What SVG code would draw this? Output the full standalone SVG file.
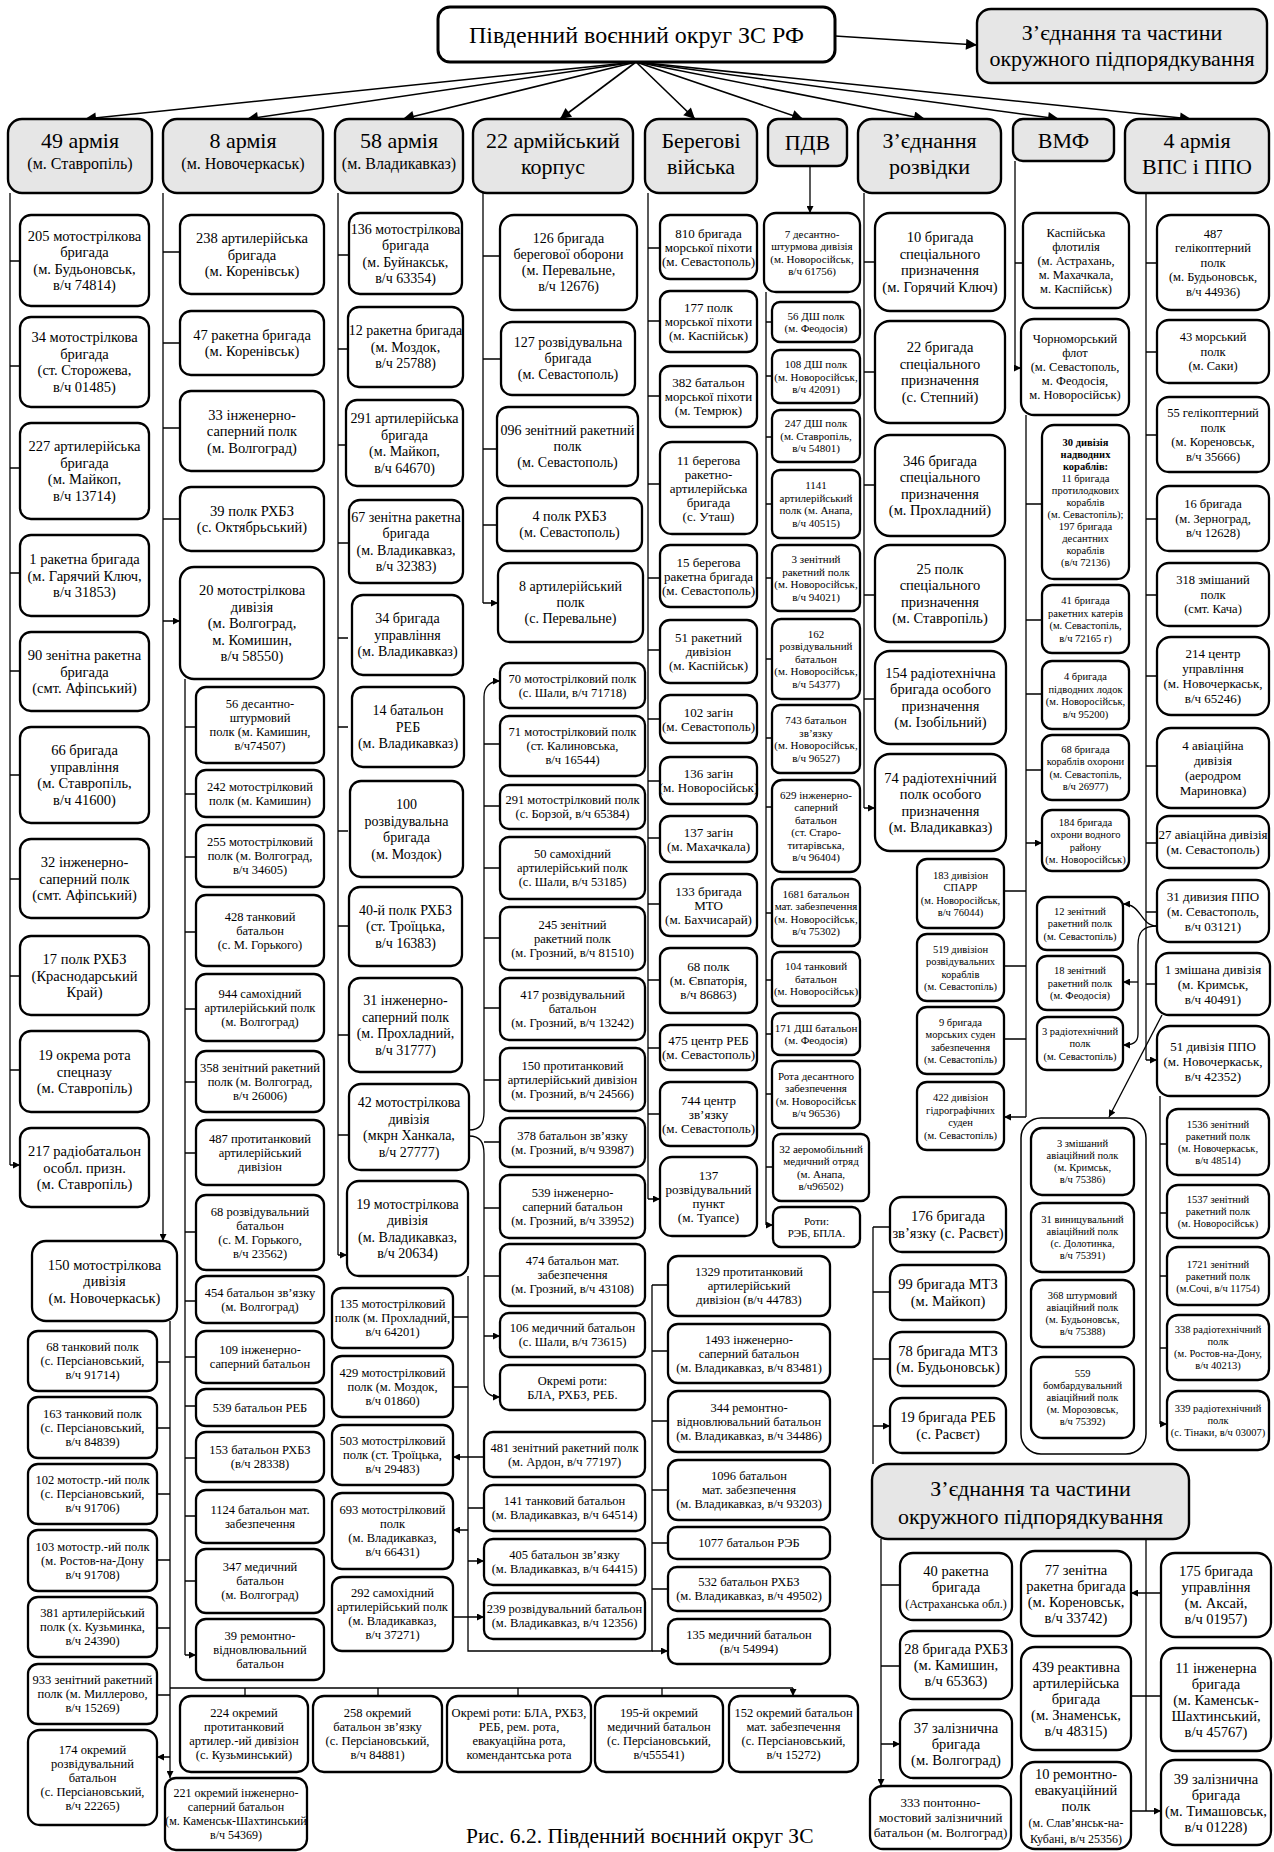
<svg xmlns="http://www.w3.org/2000/svg" width="1274" height="1852" viewBox="0 0 1274 1852">
<style>
.b{fill:#fff;stroke:#000;stroke-width:2.3}
.h{fill:#e6e6e6;stroke:#000;stroke-width:2.4}
text{font-family:"Liberation Serif","Times New Roman",serif;text-anchor:middle;fill:#000}
.f24{font-size:24px}.f22{font-size:22px}.f21{font-size:21px}.f16{font-size:16px}
.f145{font-size:14.5px}.f14{font-size:14px}.f13{font-size:13px}.f125{font-size:12.5px}.f12{font-size:12px}.f11{font-size:11px}.f105{font-size:10.5px}
.c{fill:none;stroke:#000;stroke-width:1.3}
.a{marker-end:url(#m)}
.d{marker-start:url(#m);marker-end:url(#m)}
.fa{fill:none;stroke:#000;stroke-width:1.6;marker-end:url(#M)}
</style>
<defs>
<marker id="m" viewBox="0 0 10 10" refX="10" refY="5" markerWidth="8" markerHeight="7" orient="auto-start-reverse" markerUnits="userSpaceOnUse"><path d="M0,0L10,5L0,10z"/></marker>
<marker id="M" viewBox="0 0 10 10" refX="10" refY="5" markerWidth="15" markerHeight="11" orient="auto" markerUnits="userSpaceOnUse"><path d="M0,0L10,5L0,10z"/></marker>
</defs>
<rect width="1274" height="1852" fill="#fff"/>

<g id="connectors">
<path class="fa" d="M835,36L977,45"/>
<path class="fa" d="M636,62L85,119"/>
<path class="fa" d="M636,62L247,119"/>
<path class="fa" d="M636,62L403,119"/>
<path class="fa" d="M636,62L560,119"/>
<path class="fa" d="M636,62L695,119"/>
<path class="fa" d="M636,62L803,119"/>
<path class="fa" d="M636,62L925,119"/>
<path class="fa" d="M636,62L1059,119"/>
<path class="fa" d="M636,62L1191,119"/>
<path class="c" d="M10,193V1165"/>
<path class="c a" d="M10,261H20M10,366H20M10,468H20M10,573H20M10,671H20M10,775H20M10,879H20M10,976H20M10,1070H20M10,1165H20"/>
<path class="c a" d="M163,193V1241"/>
<path class="c a" d="M163,252H180M163,343H180M163,428H180M163,519H180M163,621H180"/>
<path class="c" d="M185,679V1655"/>
<path class="c a" d="M185,727H196M185,794H196M185,857H196M185,932H196M185,1009H196M185,1082H196M185,1153H196M185,1232H196M185,1301H196M185,1357H196M185,1406H196M185,1458H196M185,1516H196M185,1581H196M185,1655H196"/>
<path class="c a" d="M170,1321V1778"/>
<path class="c a" d="M170,1362H157M170,1428H157M170,1494H157M170,1560H157M170,1628H157M170,1695H157M170,1757H157"/>
<path class="c" d="M170,1688H793"/>
<path class="c a" d="M245,1688V1696M378,1688V1696M518,1688V1696M662,1688V1696M793,1688V1696"/>
<path class="c" d="M338,193V1255"/>
<path class="c a" d="M338,255H348M338,349H348M338,445H348M338,543H348M338,638H348M338,727H348M338,831H348M338,926H348M338,1035H348M338,1135H348M338,1255H347"/>
<path class="c a" d="M469,1130C480,1130 484,1124 484,1112V697C484,687 490,681 500,681"/>
<path class="c a" d="M469,1136C480,1136 484,1142 484,1154V1382C484,1392 490,1397 500,1397"/>
<path class="c a" d="M484,744H500M484,806H500M484,868H500M484,938H500M484,1008H500M484,1080H500M484,1142H500M484,1208H500M484,1276H500M484,1336H500"/>
<path class="c" d="M468,1276V1651H652V1285"/>
<path class="c a" d="M468,1317H453M468,1387H453M468,1530H453"/>
<path class="c d" d="M453,1457H484M453,1617H484"/>
<path class="c a" d="M468,1508H484M468,1561H484"/>
<path class="c a" d="M652,1285H668M652,1351H668M652,1421H668M652,1490H668M652,1543H668M652,1589H668M652,1651H668"/>
<path class="c" d="M483,193V603"/>
<path class="c a" d="M483,256H500M483,359H501M483,449H497M483,525H497M483,603H498"/>
<path class="c" d="M648,193V1199"/>
<path class="c a" d="M648,248H660M648,321H660M648,396H660M648,484H660M648,578H660M648,650H660M648,719H660M648,781H660M648,838H660M648,904H660M648,980H660M648,1048H660M648,1114H660M648,1199H660"/>
<path class="c a" d="M810,166V213"/>
<path class="c" d="M766,292V1225"/>
<path class="c a" d="M766,322H772M766,376H772M766,437H772M766,504H772M766,578H772M766,659H772M766,738H772M766,807H772M766,913H772M766,980H772M766,1034H772M766,1094H772M766,1167H773M766,1225H773"/>
<path class="c" d="M864,193V808"/>
<path class="c a" d="M864,262H875M864,372H875M864,485H875M864,595H875M864,699H875M864,808H875"/>
<path class="c" d="M1015,161V368"/>
<path class="c a" d="M1015,263H1023M1015,368H1021"/>
<path class="c" d="M1026,415V1117"/>
<path class="c a" d="M1026,504H1042M1026,620H1042M1026,694H1042M1026,770H1042M1026,843H1042"/>
<path class="c a" d="M1026,891H1004M1026,966H1004M1026,1039H1004M1026,1117H1004"/>
<path class="c" d="M1146,193V1060"/>
<path class="c a" d="M1146,263H1157M1146,352H1157M1146,435H1157M1146,519H1157M1146,595H1157M1146,676H1157M1146,766H1157M1146,843H1157M1146,912H1157M1146,984H1156M1146,1060H1157"/>
<path class="c" d="M1160,1096V1424"/>
<path class="c a" d="M1160,1144H1167M1160,1213H1167M1160,1276H1167M1160,1348H1167M1160,1424H1167"/>
<path class="c a" d="M1157,926C1140,926 1142,904 1123,904"/>
<path class="c a" d="M1157,926C1143,926 1138,932 1138,945V1034C1138,1043 1132,1045 1123,1045"/>
<path class="c a" d="M1138,982H1123"/>
<path class="c a" d="M1162,1015L1109,1117"/>
<path class="c a" d="M1021,1159H1031M1021,1238H1031M1021,1314H1031M1021,1394H1031"/>
<path class="c" d="M873,1227V1464"/>
<path class="c a" d="M873,1227H890M873,1292H890M873,1359H890M873,1426H890"/>
<path class="c a" d="M881,1539V1786"/>
<path class="c a" d="M881,1585H900M881,1666H900M881,1744H900"/>
<path class="c" d="M1146,1539V1811"/>
<path class="c d" d="M1131,1593H1161M1131,1696H1161M1131,1811H1161"/>
</g>

<g id="top"><rect x="438" y="7" width="397" height="55" rx="12" class="b" style="stroke-width:3"/><text class="f24" x="636.5" y="43">Південний воєнний округ ЗС РФ</text></g>
<g id="top_sub"><rect x="977" y="9" width="290" height="74" rx="14" class="h"/><text class="f22" x="1122" y="40">З’єднання та частини<tspan x="1122" dy="26">окружного підпорядкування</tspan></text></g>

<g id="h49"><rect x="8" y="119" width="144" height="74" rx="14" class="h"/><text class="f22" x="80" y="148">49 армія</text><text class="f16" x="80" y="169">(м. Ставропіль)</text></g>
<g id="h8"><rect x="163" y="119" width="160" height="74" rx="14" class="h"/><text class="f22" x="243" y="148">8 армія</text><text class="f16" x="243" y="169">(м. Новочеркаськ)</text></g>
<g id="h58"><rect x="335" y="119" width="128" height="74" rx="14" class="h"/><text class="f22" x="399" y="148">58 армія</text><text class="f16" x="399" y="169">(м. Владикавказ)</text></g>
<g id="h22"><rect x="473" y="119" width="160" height="74" rx="14" class="h"/><text class="f22" x="553" y="148">22 армійський<tspan x="553" dy="26">корпус</tspan></text></g>
<g id="hcoast"><rect x="645" y="119" width="112" height="74" rx="14" class="h"/><text class="f22" x="701" y="148">Берегові<tspan x="701" dy="26">війська</tspan></text></g>
<g id="hpdv"><rect x="768" y="119" width="79" height="47" rx="10" class="h"/><text class="f22" x="807.5" y="150">ПДВ</text></g>
<g id="hrecon"><rect x="858" y="119" width="143" height="74" rx="14" class="h"/><text class="f22" x="929.5" y="148">З’єднання<tspan x="929.5" dy="26">розвідки</tspan></text></g>
<g id="hnavy"><rect x="1013" y="119" width="101" height="42" rx="10" class="h"/><text class="f22" x="1063.5" y="148">ВМФ</text></g>
<g id="h4"><rect x="1125" y="119" width="144" height="74" rx="14" class="h"/><text class="f22" x="1197" y="148">4 армія<tspan x="1197" dy="26">ВПС і ППО</tspan></text></g>

<g id="n205"><rect x="20" y="215" width="129" height="91" rx="11" class="b"/><text class="f145" x="84.5" y="240.8">205 мотострілкова<tspan x="84.5" dy="16.5">бригада</tspan><tspan x="84.5" dy="16.5">(м. Будьоновськ,</tspan><tspan x="84.5" dy="16.5">в/ч 74814)</tspan></text></g>
<g id="n34"><rect x="20" y="317" width="129" height="90" rx="11" class="b"/><text class="f145" x="84.5" y="342.3">34 мотострілкова<tspan x="84.5" dy="16.5">бригада</tspan><tspan x="84.5" dy="16.5">(ст. Сторожева,</tspan><tspan x="84.5" dy="16.5">в/ч 01485)</tspan></text></g>
<g id="n227"><rect x="20" y="423" width="129" height="96" rx="11" class="b"/><text class="f145" x="84.5" y="451.3">227 артилерійська<tspan x="84.5" dy="16.5">бригада</tspan><tspan x="84.5" dy="16.5">(м. Майкоп,</tspan><tspan x="84.5" dy="16.5">в/ч 13714)</tspan></text></g>
<g id="n1r"><rect x="20" y="535" width="129" height="81" rx="11" class="b"/><text class="f145" x="84.5" y="564.1">1 ракетна бригада<tspan x="84.5" dy="16.5">(м. Гарячий Ключ,</tspan><tspan x="84.5" dy="16.5">в/ч 31853)</tspan></text></g>
<g id="n90"><rect x="20" y="632" width="129" height="79" rx="11" class="b"/><text class="f145" x="84.5" y="660.1">90 зенітна ракетна<tspan x="84.5" dy="16.5">бригада</tspan><tspan x="84.5" dy="16.5">(смт. Афіпський)</tspan></text></g>
<g id="n66"><rect x="20" y="727" width="129" height="96" rx="11" class="b"/><text class="f145" x="84.5" y="755.3">66 бригада<tspan x="84.5" dy="16.5">управління</tspan><tspan x="84.5" dy="16.5">(м. Ставропіль,</tspan><tspan x="84.5" dy="16.5">в/ч 41600)</tspan></text></g>
<g id="n32"><rect x="20" y="839" width="129" height="79" rx="11" class="b"/><text class="f145" x="84.5" y="867.1">32 інженерно-<tspan x="84.5" dy="16.5">саперний полк</tspan><tspan x="84.5" dy="16.5">(смт. Афіпський)</tspan></text></g>
<g id="n17"><rect x="20" y="936" width="129" height="79" rx="11" class="b"/><text class="f145" x="84.5" y="964.1">17 полк РХБЗ<tspan x="84.5" dy="16.5">(Краснодарський</tspan><tspan x="84.5" dy="16.5">Край)</tspan></text></g>
<g id="n19r"><rect x="20" y="1031" width="129" height="81" rx="11" class="b"/><text class="f145" x="84.5" y="1060.1">19 окрема рота<tspan x="84.5" dy="16.5">спецназу</tspan><tspan x="84.5" dy="16.5">(м. Ставропіль)</tspan></text></g>
<g id="n217"><rect x="20" y="1128" width="129" height="79" rx="11" class="b"/><text class="f145" x="84.5" y="1156.1">217 радіобатальон<tspan x="84.5" dy="16.5">особл. призн.</tspan><tspan x="84.5" dy="16.5">(м. Ставропіль)</tspan></text></g>

<g id="n238"><rect x="180" y="215" width="144" height="79" rx="11" class="b"/><text class="f145" x="252" y="243.1">238 артилерійська<tspan x="252" dy="16.5">бригада</tspan><tspan x="252" dy="16.5">(м. Коренівськ)</tspan></text></g>
<g id="n47"><rect x="180" y="311" width="144" height="64" rx="11" class="b"/><text class="f145" x="252" y="339.8">47 ракетна бригада<tspan x="252" dy="16.5">(м. Коренівськ)</tspan></text></g>
<g id="n33"><rect x="180" y="391" width="144" height="80" rx="11" class="b"/><text class="f145" x="252" y="419.6">33 інженерно-<tspan x="252" dy="16.5">саперний полк</tspan><tspan x="252" dy="16.5">(м. Волгоград)</tspan></text></g>
<g id="n39rh"><rect x="180" y="487" width="144" height="64" rx="11" class="b"/><text class="f145" x="252" y="515.8">39 полк РХБЗ<tspan x="252" dy="16.5">(с. Октябрьський)</tspan></text></g>
<g id="n20"><rect x="180" y="567" width="144" height="112" rx="14" class="b"/><text class="f145" x="252" y="595.1">20 мотострілкова<tspan x="252" dy="16.5">дивізія</tspan><tspan x="252" dy="16.5">(м. Волгоград,</tspan><tspan x="252" dy="16.5">м. Комишин,</tspan><tspan x="252" dy="16.5">в/ч 58550)</tspan></text></g>
<g id="n56"><rect x="196" y="687" width="128" height="76" rx="10" class="b"/><text class="f125" x="260" y="708.4">56 десантно-<tspan x="260" dy="14">штурмовий</tspan><tspan x="260" dy="14">полк (м. Камишин,</tspan><tspan x="260" dy="14">в/ч74507)</tspan></text></g>
<g id="n242"><rect x="196" y="770" width="128" height="47" rx="10" class="b"/><text class="f125" x="260" y="790.9">242 мотострілковий<tspan x="260" dy="14">полк (м. Камишин)</tspan></text></g>
<g id="n255"><rect x="196" y="825" width="128" height="62" rx="10" class="b"/><text class="f125" x="260" y="846.4">255 мотострілковий<tspan x="260" dy="14">полк (м. Волгоград,</tspan><tspan x="260" dy="14">в/ч 34605)</tspan></text></g>
<g id="n428"><rect x="196" y="895" width="128" height="71" rx="10" class="b"/><text class="f125" x="260" y="920.9">428 танковий<tspan x="260" dy="14">батальон</tspan><tspan x="260" dy="14">(с. М. Горького)</tspan></text></g>
<g id="n944"><rect x="196" y="974" width="128" height="67" rx="10" class="b"/><text class="f125" x="260" y="997.9">944 самохідний<tspan x="260" dy="14">артилерійський полк</tspan><tspan x="260" dy="14">(м. Волгоград)</tspan></text></g>
<g id="n358"><rect x="196" y="1051" width="128" height="61" rx="10" class="b"/><text class="f125" x="260" y="1071.9">358 зенітний ракетний<tspan x="260" dy="14">полк (м. Волгоград,</tspan><tspan x="260" dy="14">в/ч 26006)</tspan></text></g>
<g id="n487p"><rect x="196" y="1120" width="128" height="65" rx="10" class="b"/><text class="f125" x="260" y="1142.9">487 протитанковий<tspan x="260" dy="14">артилерійський</tspan><tspan x="260" dy="14">дивізіон</tspan></text></g>
<g id="n68r"><rect x="196" y="1195" width="128" height="75" rx="10" class="b"/><text class="f125" x="260" y="1215.9">68 розвідувальний<tspan x="260" dy="14">батальон</tspan><tspan x="260" dy="14">(с. М. Горького,</tspan><tspan x="260" dy="14">в/ч 23562)</tspan></text></g>
<g id="n454"><rect x="196" y="1276" width="128" height="47" rx="10" class="b"/><text class="f125" x="260" y="1296.9">454 батальон зв’язку<tspan x="260" dy="14">(м. Волгоград)</tspan></text></g>
<g id="n109"><rect x="196" y="1331" width="128" height="52" rx="10" class="b"/><text class="f125" x="260" y="1354.4">109 інженерно-<tspan x="260" dy="14">саперний батальон</tspan></text></g>
<g id="n539r"><rect x="196" y="1389" width="128" height="37" rx="10" class="b"/><text class="f125" x="260" y="1411.9">539 батальон РЕБ</text></g>
<g id="n153"><rect x="196" y="1432" width="128" height="50" rx="10" class="b"/><text class="f125" x="260" y="1454.4">153 батальон РХБЗ<tspan x="260" dy="14">(в/ч 28338)</tspan></text></g>
<g id="n1124"><rect x="196" y="1490" width="128" height="53" rx="10" class="b"/><text class="f125" x="260" y="1513.9">1124 батальон мат.<tspan x="260" dy="14">забезпечення</tspan></text></g>
<g id="n347"><rect x="196" y="1549" width="128" height="64" rx="10" class="b"/><text class="f125" x="260" y="1571.4">347 медичний<tspan x="260" dy="14">батальон</tspan><tspan x="260" dy="14">(м. Волгоград)</tspan></text></g>
<g id="n39rem"><rect x="196" y="1619" width="128" height="61" rx="10" class="b"/><text class="f125" x="260" y="1639.9">39 ремонтно-<tspan x="260" dy="14">відновлювальний</tspan><tspan x="260" dy="14">батальон</tspan></text></g>

<g id="n150"><rect x="32" y="1241" width="145" height="80" rx="14" class="b"/><text class="f145" x="104.5" y="1269.6">150 мотострілкова<tspan x="104.5" dy="16.5">дивізія</tspan><tspan x="104.5" dy="16.5">(м. Новочеркаськ)</tspan></text></g>
<g id="n68t"><rect x="28" y="1331" width="129" height="60" rx="10" class="b"/><text class="f125" x="92.5" y="1351.4">68 танковий полк<tspan x="92.5" dy="14">(с. Персіановський,</tspan><tspan x="92.5" dy="14">в/ч 91714)</tspan></text></g>
<g id="n163"><rect x="28" y="1397" width="129" height="61" rx="10" class="b"/><text class="f125" x="92.5" y="1417.9">163 танковий полк<tspan x="92.5" dy="14">(с. Персіановський,</tspan><tspan x="92.5" dy="14">в/ч 84839)</tspan></text></g>
<g id="n102m"><rect x="28" y="1464" width="129" height="60" rx="10" class="b"/><text class="f125" x="92.5" y="1484.4">102 мотостр.-ий полк<tspan x="92.5" dy="14">(с. Персіановський,</tspan><tspan x="92.5" dy="14">в/ч 91706)</tspan></text></g>
<g id="n103"><rect x="28" y="1530" width="129" height="61" rx="10" class="b"/><text class="f125" x="92.5" y="1550.9">103 мотостр.-ий полк<tspan x="92.5" dy="14">(м. Ростов-на-Дону</tspan><tspan x="92.5" dy="14">в/ч 91708)</tspan></text></g>
<g id="n381"><rect x="28" y="1597" width="129" height="60" rx="10" class="b"/><text class="f125" x="92.5" y="1617.4">381 артилерійський<tspan x="92.5" dy="14">полк (х. Кузьминка,</tspan><tspan x="92.5" dy="14">в/ч 24390)</tspan></text></g>
<g id="n933"><rect x="28" y="1664" width="129" height="60" rx="10" class="b"/><text class="f125" x="92.5" y="1684.4">933 зенітний ракетний<tspan x="92.5" dy="14">полк (м. Миллерово,</tspan><tspan x="92.5" dy="14">в/ч 15269)</tspan></text></g>
<g id="n174"><rect x="28" y="1730" width="129" height="95" rx="12" class="b"/><text class="f125" x="92.5" y="1753.9">174 окремий<tspan x="92.5" dy="14">розвідувальний</tspan><tspan x="92.5" dy="14">батальон</tspan><tspan x="92.5" dy="14">(с. Персіановський,</tspan><tspan x="92.5" dy="14">в/ч 22265)</tspan></text></g>
<g id="n221"><rect x="165" y="1778" width="142" height="72" rx="11" class="b"/><text class="f12" x="236" y="1797.2">221 окремий інженерно-<tspan x="236" dy="14">саперний батальон</tspan><tspan x="236" dy="14">(м. Каменськ-Шахтинський</tspan><tspan x="236" dy="14">в/ч 54369)</tspan></text></g>
<g id="n224"><rect x="180" y="1696" width="128" height="76" rx="11" class="b"/><text class="f125" x="244" y="1717.4">224 окремий<tspan x="244" dy="14">протитанковий</tspan><tspan x="244" dy="14">артилер.-ий дивізіон</tspan><tspan x="244" dy="14">(с. Кузьминський)</tspan></text></g>
<g id="n258"><rect x="313" y="1696" width="129" height="76" rx="11" class="b"/><text class="f125" x="377.5" y="1717.4">258 окремий<tspan x="377.5" dy="14">батальон зв’язку</tspan><tspan x="377.5" dy="14">(с. Персіановський,</tspan><tspan x="377.5" dy="14">в/ч 84881)</tspan></text></g>
<g id="nrots"><rect x="447" y="1696" width="144" height="76" rx="11" class="b"/><text class="f125" x="519" y="1717.4">Окремі роти: БЛА, РХБЗ,<tspan x="519" dy="14">РЕБ, рем. рота,</tspan><tspan x="519" dy="14">евакуаційна рота,</tspan><tspan x="519" dy="14">комендантська рота</tspan></text></g>
<g id="n195"><rect x="595" y="1696" width="128" height="76" rx="11" class="b"/><text class="f125" x="659" y="1717.4">195-й окремий<tspan x="659" dy="14">медичний батальон</tspan><tspan x="659" dy="14">(с. Персіановський,</tspan><tspan x="659" dy="14">в/ч55541)</tspan></text></g>
<g id="n152"><rect x="729" y="1696" width="129" height="76" rx="11" class="b"/><text class="f125" x="793.5" y="1717.4">152 окремий батальон<tspan x="793.5" dy="14">мат. забезпечення</tspan><tspan x="793.5" dy="14">(с. Персіановський,</tspan><tspan x="793.5" dy="14">в/ч 15272)</tspan></text></g>

<g id="n136"><rect x="349" y="213" width="113" height="81" rx="11" class="b"/><text class="f14" x="405.5" y="233.7">136 мотострілкова<tspan x="405.5" dy="16.5">бригада</tspan><tspan x="405.5" dy="16.5">(м. Буйнакськ,</tspan><tspan x="405.5" dy="16.5">в/ч 63354)</tspan></text></g>
<g id="n12r"><rect x="348" y="307" width="115" height="80" rx="11" class="b"/><text class="f14" x="405.5" y="335.4">12 ракетна бригада<tspan x="405.5" dy="16.5">(м. Моздок,</tspan><tspan x="405.5" dy="16.5">в/ч 25788)</tspan></text></g>
<g id="n291a"><rect x="346" y="400" width="117" height="86" rx="11" class="b"/><text class="f14" x="404.5" y="423.2">291 артилерійська<tspan x="404.5" dy="16.5">бригада</tspan><tspan x="404.5" dy="16.5">(м. Майкоп,</tspan><tspan x="404.5" dy="16.5">в/ч 64670)</tspan></text></g>
<g id="n67"><rect x="349" y="500" width="114" height="83" rx="11" class="b"/><text class="f14" x="406" y="521.7">67 зенітна ракетна<tspan x="406" dy="16.5">бригада</tspan><tspan x="406" dy="16.5">(м. Владикавказ,</tspan><tspan x="406" dy="16.5">в/ч 32383)</tspan></text></g>
<g id="n34u"><rect x="352" y="595" width="111" height="80" rx="11" class="b"/><text class="f14" x="407.5" y="623.4">34 бригада<tspan x="407.5" dy="16.5">управління</tspan><tspan x="407.5" dy="16.5">(м. Владикавказ)</tspan></text></g>
<g id="n14"><rect x="352" y="687" width="112" height="80" rx="11" class="b"/><text class="f14" x="408" y="715.4">14 батальон<tspan x="408" dy="16.5">РЕБ</tspan><tspan x="408" dy="16.5">(м. Владикавказ)</tspan></text></g>
<g id="n100"><rect x="350" y="781" width="113" height="96" rx="11" class="b"/><text class="f14" x="406.5" y="809.2">100<tspan x="406.5" dy="16.5">розвідувальна</tspan><tspan x="406.5" dy="16.5">бригада</tspan><tspan x="406.5" dy="16.5">(м. Моздок)</tspan></text></g>
<g id="n40"><rect x="349" y="887" width="113" height="79" rx="11" class="b"/><text class="f14" x="405.5" y="914.9">40-й полк РХБЗ<tspan x="405.5" dy="16.5">(ст. Троїцька,</tspan><tspan x="405.5" dy="16.5">в/ч 16383)</tspan></text></g>
<g id="n31i"><rect x="349" y="978" width="113" height="94" rx="11" class="b"/><text class="f14" x="405.5" y="1005.2">31 інженерно-<tspan x="405.5" dy="16.5">саперний полк</tspan><tspan x="405.5" dy="16.5">(м. Прохладний,</tspan><tspan x="405.5" dy="16.5">в/ч 31777)</tspan></text></g>
<g id="n42"><rect x="349" y="1084" width="120" height="86" rx="12" class="b"/><text class="f14" x="409" y="1107.2">42 мотострілкова<tspan x="409" dy="16.5">дивізія</tspan><tspan x="409" dy="16.5">(мкрн Ханкала,</tspan><tspan x="409" dy="16.5">в/ч 27777)</tspan></text></g>
<g id="n19m"><rect x="347" y="1181" width="121" height="95" rx="12" class="b"/><text class="f14" x="407.5" y="1208.7">19 мотострілкова<tspan x="407.5" dy="16.5">дивізія</tspan><tspan x="407.5" dy="16.5">(м. Владикавказ,</tspan><tspan x="407.5" dy="16.5">в/ч 20634)</tspan></text></g>

<g id="n70"><rect x="500" y="663" width="145" height="45" rx="9" class="b"/><text class="f125" x="572.5" y="682.9">70 мотострілковий полк<tspan x="572.5" dy="14">(с. Шали, в/ч 71718)</tspan></text></g>
<g id="n71"><rect x="500" y="716" width="145" height="60" rx="9" class="b"/><text class="f125" x="572.5" y="736.4">71 мотострілковий полк<tspan x="572.5" dy="14">(ст. Калиновська,</tspan><tspan x="572.5" dy="14">в/ч 16544)</tspan></text></g>
<g id="n291m"><rect x="500" y="785" width="145" height="44" rx="9" class="b"/><text class="f125" x="572.5" y="804.4">291 мотострілковий полк<tspan x="572.5" dy="14">(с. Борзой, в/ч 65384)</tspan></text></g>
<g id="n50"><rect x="500" y="837" width="145" height="62" rx="9" class="b"/><text class="f125" x="572.5" y="858.4">50 самохідний<tspan x="572.5" dy="14">артилерійський полк</tspan><tspan x="572.5" dy="14">(с. Шали, в/ч 53185)</tspan></text></g>
<g id="n245"><rect x="500" y="907" width="145" height="63" rx="9" class="b"/><text class="f125" x="572.5" y="928.9">245 зенітний<tspan x="572.5" dy="14">ракетний полк</tspan><tspan x="572.5" dy="14">(м. Грозний, в/ч 81510)</tspan></text></g>
<g id="n417"><rect x="500" y="978" width="145" height="62" rx="9" class="b"/><text class="f125" x="572.5" y="999.4">417 розвідувальний<tspan x="572.5" dy="14">батальон</tspan><tspan x="572.5" dy="14">(м. Грозний, в/ч 13242)</tspan></text></g>
<g id="n150p"><rect x="500" y="1048" width="145" height="63" rx="9" class="b"/><text class="f125" x="572.5" y="1069.9">150 протитанковий<tspan x="572.5" dy="14">артилерійський дивізіон</tspan><tspan x="572.5" dy="14">(м. Грозний, в/ч 24566)</tspan></text></g>
<g id="n378"><rect x="500" y="1118" width="145" height="49" rx="9" class="b"/><text class="f125" x="572.5" y="1139.9">378 батальон зв’язку<tspan x="572.5" dy="14">(м. Грозний, в/ч 93987)</tspan></text></g>
<g id="n539i"><rect x="500" y="1175" width="145" height="63" rx="9" class="b"/><text class="f125" x="572.5" y="1196.9">539 інженерно-<tspan x="572.5" dy="14">саперний батальон</tspan><tspan x="572.5" dy="14">(м. Грозний, в/ч 33952)</tspan></text></g>
<g id="n474"><rect x="500" y="1244" width="145" height="62" rx="9" class="b"/><text class="f125" x="572.5" y="1265.4">474 батальон мат.<tspan x="572.5" dy="14">забезпечення</tspan><tspan x="572.5" dy="14">(м. Грозний, в/ч 43108)</tspan></text></g>
<g id="n106"><rect x="500" y="1313" width="145" height="44" rx="9" class="b"/><text class="f125" x="572.5" y="1332.4">106 медичний батальон<tspan x="572.5" dy="14">(с. Шали, в/ч 73615)</tspan></text></g>
<g id="nrot42"><rect x="500" y="1365" width="145" height="45" rx="9" class="b"/><text class="f125" x="572.5" y="1384.9">Окремі роти:<tspan x="572.5" dy="14">БЛА, РХБЗ, РЕБ.</tspan></text></g>

<g id="n135"><rect x="332" y="1288" width="121" height="60" rx="10" class="b"/><text class="f125" x="392.5" y="1308.4">135 мотострілковий<tspan x="392.5" dy="14">полк (м. Прохладний,</tspan><tspan x="392.5" dy="14">в/ч 64201)</tspan></text></g>
<g id="n429"><rect x="332" y="1356" width="121" height="61" rx="10" class="b"/><text class="f125" x="392.5" y="1376.9">429 мотострілковий<tspan x="392.5" dy="14">полк (м. Моздок,</tspan><tspan x="392.5" dy="14">в/ч 01860)</tspan></text></g>
<g id="n503"><rect x="332" y="1425" width="121" height="60" rx="10" class="b"/><text class="f125" x="392.5" y="1445.4">503 мотострілковий<tspan x="392.5" dy="14">полк (ст. Троїцька,</tspan><tspan x="392.5" dy="14">в/ч 29483)</tspan></text></g>
<g id="n693"><rect x="332" y="1493" width="121" height="76" rx="10" class="b"/><text class="f125" x="392.5" y="1514.4">693 мотострілковий<tspan x="392.5" dy="14">полк</tspan><tspan x="392.5" dy="14">(м. Владикавказ,</tspan><tspan x="392.5" dy="14">в/ч 66431)</tspan></text></g>
<g id="n292"><rect x="332" y="1577" width="121" height="74" rx="10" class="b"/><text class="f125" x="392.5" y="1597.4">292 самохідний<tspan x="392.5" dy="14">артилерійський полк</tspan><tspan x="392.5" dy="14">(м. Владикавказ,</tspan><tspan x="392.5" dy="14">в/ч 37271)</tspan></text></g>
<g id="n481"><rect x="484" y="1432" width="161" height="45" rx="9" class="b"/><text class="f125" x="564.5" y="1451.9">481 зенітний ракетний полк<tspan x="564.5" dy="14">(м. Ардон, в/ч 77197)</tspan></text></g>
<g id="n141"><rect x="484" y="1485" width="161" height="46" rx="9" class="b"/><text class="f125" x="564.5" y="1505.4">141 танковий батальон<tspan x="564.5" dy="14">(м. Владикавказ, в/ч 64514)</tspan></text></g>
<g id="n405"><rect x="484" y="1539" width="161" height="46" rx="9" class="b"/><text class="f125" x="564.5" y="1559.4">405 батальон зв’язку<tspan x="564.5" dy="14">(м. Владикавказ, в/ч 64415)</tspan></text></g>
<g id="n239"><rect x="484" y="1593" width="161" height="46" rx="9" class="b"/><text class="f125" x="564.5" y="1613.4">239 розвідувальний батальон<tspan x="564.5" dy="14">(м. Владикавказ, в/ч 12356)</tspan></text></g>
<g id="n1329"><rect x="668" y="1256" width="162" height="60" rx="10" class="b"/><text class="f125" x="749" y="1276.4">1329 протитанковий<tspan x="749" dy="14">артилерійський</tspan><tspan x="749" dy="14">дивізіон (в/ч 44783)</tspan></text></g>
<g id="n1493"><rect x="668" y="1324" width="162" height="59" rx="10" class="b"/><text class="f125" x="749" y="1343.9">1493 інженерно-<tspan x="749" dy="14">саперний батальон</tspan><tspan x="749" dy="14">(м. Владикавказ, в/ч 83481)</tspan></text></g>
<g id="n344"><rect x="668" y="1391" width="162" height="61" rx="10" class="b"/><text class="f125" x="749" y="1411.9">344 ремонтно-<tspan x="749" dy="14">відновлювальний батальон</tspan><tspan x="749" dy="14">(м. Владикавказ, в/ч 34486)</tspan></text></g>
<g id="n1096"><rect x="668" y="1460" width="162" height="60" rx="10" class="b"/><text class="f125" x="749" y="1480.4">1096 батальон<tspan x="749" dy="14">мат. забезпечення</tspan><tspan x="749" dy="14">(м. Владикавказ, в/ч 93203)</tspan></text></g>
<g id="n1077"><rect x="668" y="1527" width="162" height="32" rx="9" class="b"/><text class="f125" x="749" y="1547.4">1077 батальон РЭБ</text></g>
<g id="n532"><rect x="668" y="1567" width="162" height="44" rx="9" class="b"/><text class="f125" x="749" y="1586.4">532 батальон РХБЗ<tspan x="749" dy="14">(м. Владикавказ, в/ч 49502)</tspan></text></g>
<g id="n135m"><rect x="668" y="1619" width="162" height="45" rx="9" class="b"/><text class="f125" x="749" y="1638.9">135 медичний батальон<tspan x="749" dy="14">(в/ч 54994)</tspan></text></g>

<g id="n126"><rect x="500" y="215" width="137" height="95" rx="14" class="b"/><text class="f14" x="568.5" y="243.4">126 бригада<tspan x="568.5" dy="16">берегової оборони</tspan><tspan x="568.5" dy="16">(м. Перевальне,</tspan><tspan x="568.5" dy="16">в/ч 12676)</tspan></text></g>
<g id="n127"><rect x="501" y="322" width="134" height="73" rx="11" class="b"/><text class="f14" x="568" y="347.4">127 розвідувальна<tspan x="568" dy="16">бригада</tspan><tspan x="568" dy="16">(м. Севастополь)</tspan></text></g>
<g id="n096"><rect x="497" y="407" width="141" height="79" rx="11" class="b"/><text class="f14" x="567.5" y="435.4">096 зенітний ракетний<tspan x="567.5" dy="16">полк</tspan><tspan x="567.5" dy="16">(м. Севастополь)</tspan></text></g>
<g id="n4rh"><rect x="497" y="498" width="145" height="53" rx="10" class="b"/><text class="f14" x="569.5" y="521.4">4 полк РХБЗ<tspan x="569.5" dy="16">(м. Севастополь)</tspan></text></g>
<g id="n8a"><rect x="498" y="563" width="145" height="79" rx="12" class="b"/><text class="f14" x="570.5" y="591.4">8 артилерійський<tspan x="570.5" dy="16">полк</tspan><tspan x="570.5" dy="16">(с. Перевальне)</tspan></text></g>

<g id="n810"><rect x="660" y="215" width="97" height="64" rx="10" class="b"/><text class="f13" x="708.5" y="237.6">810 бригада<tspan x="708.5" dy="14">морської піхоти</tspan><tspan x="708.5" dy="14">(м. Севастополь)</tspan></text></g>
<g id="n177"><rect x="660" y="291" width="97" height="61" rx="10" class="b"/><text class="f13" x="708.5" y="312.1">177 полк<tspan x="708.5" dy="14">морської піхоти</tspan><tspan x="708.5" dy="14">(м. Каспійськ)</tspan></text></g>
<g id="n382"><rect x="660" y="366" width="97" height="61" rx="10" class="b"/><text class="f13" x="708.5" y="387.1">382 батальон<tspan x="708.5" dy="14">морської піхоти</tspan><tspan x="708.5" dy="14">(м. Темрюк)</tspan></text></g>
<g id="n11b"><rect x="660" y="442" width="97" height="92" rx="12" class="b"/><text class="f13" x="708.5" y="464.6">11 берегова<tspan x="708.5" dy="14">ракетно-</tspan><tspan x="708.5" dy="14">артилерійська</tspan><tspan x="708.5" dy="14">бригада</tspan><tspan x="708.5" dy="14">(с. Уташ)</tspan></text></g>
<g id="n15b"><rect x="660" y="545" width="97" height="62" rx="10" class="b"/><text class="f13" x="708.5" y="566.6">15 берегова<tspan x="708.5" dy="14">ракетна бригада</tspan><tspan x="708.5" dy="14">(м. Севастополь)</tspan></text></g>
<g id="n51r"><rect x="660" y="620" width="97" height="63" rx="10" class="b"/><text class="f13" x="708.5" y="642.1">51 ракетний<tspan x="708.5" dy="14">дивізіон</tspan><tspan x="708.5" dy="14">(м. Каспійськ)</tspan></text></g>
<g id="n102z"><rect x="660" y="695" width="97" height="48" rx="10" class="b"/><text class="f13" x="708.5" y="716.6">102 загін<tspan x="708.5" dy="14">(м. Севастополь)</tspan></text></g>
<g id="n136z"><rect x="660" y="757" width="97" height="47" rx="10" class="b"/><text class="f13" x="708.5" y="778.1">136 загін<tspan x="708.5" dy="14">(м. Новоросійськ)</tspan></text></g>
<g id="n137z"><rect x="660" y="816" width="97" height="46" rx="10" class="b"/><text class="f13" x="708.5" y="836.6">137 загін<tspan x="708.5" dy="14">(м. Махачкала)</tspan></text></g>
<g id="n133"><rect x="660" y="874" width="97" height="62" rx="10" class="b"/><text class="f13" x="708.5" y="895.6">133 бригада<tspan x="708.5" dy="14">МТО</tspan><tspan x="708.5" dy="14">(м. Бахчисарай)</tspan></text></g>
<g id="n68p"><rect x="660" y="948" width="97" height="65" rx="10" class="b"/><text class="f13" x="708.5" y="971.1">68 полк<tspan x="708.5" dy="14">(м. Євпаторія,</tspan><tspan x="708.5" dy="14">в/ч 86863)</tspan></text></g>
<g id="n475"><rect x="660" y="1025" width="97" height="45" rx="10" class="b"/><text class="f13" x="708.5" y="1045.1">475 центр РЕБ<tspan x="708.5" dy="14">(м. Севастополь)</tspan></text></g>
<g id="n744"><rect x="660" y="1082" width="97" height="64" rx="10" class="b"/><text class="f13" x="708.5" y="1104.6">744 центр<tspan x="708.5" dy="14">зв’язку</tspan><tspan x="708.5" dy="14">(м. Севастополь)</tspan></text></g>
<g id="n137p"><rect x="660" y="1157" width="97" height="79" rx="12" class="b"/><text class="f13" x="708.5" y="1180.1">137<tspan x="708.5" dy="14">розвідувальний</tspan><tspan x="708.5" dy="14">пункт</tspan><tspan x="708.5" dy="14">(м. Туапсе)</tspan></text></g>

<g id="n7"><rect x="764" y="213" width="96" height="79" rx="12" class="b"/><text class="f11" x="812" y="237.6">7 десантно-<tspan x="812" dy="12.5">штурмова дивізія</tspan><tspan x="812" dy="12.5">(м. Новоросійськ,</tspan><tspan x="812" dy="12.5">в/ч 61756)</tspan></text></g>
<g id="n56d"><rect x="772" y="302" width="88" height="40" rx="8" class="b"/><text class="f11" x="816" y="319.6">56 ДШ полк<tspan x="816" dy="12.5">(м. Феодосія)</tspan></text></g>
<g id="n108"><rect x="772" y="350" width="88" height="53" rx="8" class="b"/><text class="f11" x="816" y="368.1">108 ДШ полк<tspan x="816" dy="12.5">(м. Новоросійськ,</tspan><tspan x="816" dy="12.5">в/ч 42091)</tspan></text></g>
<g id="n247"><rect x="772" y="410" width="88" height="52" rx="8" class="b"/><text class="f11" x="816" y="427.4">247 ДШ полк<tspan x="816" dy="12.5">(м. Ставропіль,</tspan><tspan x="816" dy="12.5">в/ч 54801)</tspan></text></g>
<g id="n1141"><rect x="772" y="470" width="88" height="68" rx="8" class="b"/><text class="f11" x="816" y="489.1">1141<tspan x="816" dy="12.5">артилерійський</tspan><tspan x="816" dy="12.5">полк (м. Анапа,</tspan><tspan x="816" dy="12.5">в/ч 40515)</tspan></text></g>
<g id="n3z"><rect x="772" y="545" width="88" height="66" rx="8" class="b"/><text class="f11" x="816" y="563.1">3 зенітний<tspan x="816" dy="12.5">ракетний полк</tspan><tspan x="816" dy="12.5">(м. Новоросійськ,</tspan><tspan x="816" dy="12.5">в/ч 94021)</tspan></text></g>
<g id="n162"><rect x="772" y="619" width="88" height="80" rx="9" class="b"/><text class="f11" x="816" y="637.9">162<tspan x="816" dy="12.5">розвідувальний</tspan><tspan x="816" dy="12.5">батальон</tspan><tspan x="816" dy="12.5">(м. Новоросійськ,</tspan><tspan x="816" dy="12.5">в/ч 54377)</tspan></text></g>
<g id="n743"><rect x="772" y="705" width="88" height="68" rx="8" class="b"/><text class="f11" x="816" y="724.1">743 батальон<tspan x="816" dy="12.5">зв’язку</tspan><tspan x="816" dy="12.5">(м. Новоросійськ,</tspan><tspan x="816" dy="12.5">в/ч 96527)</tspan></text></g>
<g id="n629"><rect x="772" y="780" width="88" height="92" rx="10" class="b"/><text class="f11" x="816" y="798.6">629 інженерно-<tspan x="816" dy="12.5">саперний</tspan><tspan x="816" dy="12.5">батальон</tspan><tspan x="816" dy="12.5">(ст. Старо-</tspan><tspan x="816" dy="12.5">титарівська,</tspan><tspan x="816" dy="12.5">в/ч 96404)</tspan></text></g>
<g id="n1681"><rect x="772" y="879" width="88" height="67" rx="8" class="b"/><text class="f11" x="816" y="897.6">1681 батальон<tspan x="816" dy="12.5">мат. забезпечення</tspan><tspan x="816" dy="12.5">(м. Новоросійськ,</tspan><tspan x="816" dy="12.5">в/ч 75302)</tspan></text></g>
<g id="n104"><rect x="772" y="952" width="88" height="54" rx="8" class="b"/><text class="f11" x="816" y="970.4">104 танковий<tspan x="816" dy="12.5">батальон</tspan><tspan x="816" dy="12.5">(м. Новоросійськ)</tspan></text></g>
<g id="n171"><rect x="772" y="1013" width="88" height="42" rx="8" class="b"/><text class="f11" x="816" y="1031.6">171 ДШ батальон<tspan x="816" dy="12.5">(м. Феодосія)</tspan></text></g>
<g id="nrota"><rect x="772" y="1061" width="88" height="67" rx="8" class="b"/><text class="f11" x="816" y="1079.6">Рота десантного<tspan x="816" dy="12.5">забезпечення</tspan><tspan x="816" dy="12.5">(м. Новоросійськ</tspan><tspan x="816" dy="12.5">в/ч 96536)</tspan></text></g>
<g id="n32a"><rect x="773" y="1134" width="96" height="67" rx="8" class="b"/><text class="f11" x="821" y="1152.6">32 аеромобільний<tspan x="821" dy="12.5">медичний отряд</tspan><tspan x="821" dy="12.5">(м. Анапа,</tspan><tspan x="821" dy="12.5">в/ч96502)</tspan></text></g>
<g id="nrotpdv"><rect x="773" y="1207" width="87" height="40" rx="8" class="b"/><text class="f11" x="816.5" y="1224.6">Роти:<tspan x="816.5" dy="12.5">РЭБ, БПЛА.</tspan></text></g>

<g id="n10s"><rect x="875" y="213" width="130" height="98" rx="15" class="b"/><text class="f145" x="940" y="242.3">10 бригада<tspan x="940" dy="16.5">спеціального</tspan><tspan x="940" dy="16.5">призначення</tspan><tspan x="940" dy="16.5">(м. Горячий Ключ)</tspan></text></g>
<g id="n22s"><rect x="875" y="321" width="130" height="102" rx="15" class="b"/><text class="f145" x="940" y="352.3">22 бригада<tspan x="940" dy="16.5">спеціального</tspan><tspan x="940" dy="16.5">призначення</tspan><tspan x="940" dy="16.5">(с. Степний)</tspan></text></g>
<g id="n346"><rect x="875" y="435" width="130" height="101" rx="15" class="b"/><text class="f145" x="940" y="465.8">346 бригада<tspan x="940" dy="16.5">спеціального</tspan><tspan x="940" dy="16.5">призначення</tspan><tspan x="940" dy="16.5">(м. Прохладний)</tspan></text></g>
<g id="n25s"><rect x="875" y="545" width="130" height="97" rx="15" class="b"/><text class="f145" x="940" y="573.8">25 полк<tspan x="940" dy="16.5">спеціального</tspan><tspan x="940" dy="16.5">призначення</tspan><tspan x="940" dy="16.5">(м. Ставропіль)</tspan></text></g>
<g id="n154"><rect x="875" y="651" width="131" height="93" rx="15" class="b"/><text class="f145" x="940.5" y="677.8">154 радіотехнічна<tspan x="940.5" dy="16.5">бригада особого</tspan><tspan x="940.5" dy="16.5">призначення</tspan><tspan x="940.5" dy="16.5">(м. Ізобільний)</tspan></text></g>
<g id="n74"><rect x="875" y="754" width="131" height="97" rx="15" class="b"/><text class="f145" x="940.5" y="782.8">74 радіотехнічний<tspan x="940.5" dy="16.5">полк особого</tspan><tspan x="940.5" dy="16.5">призначення</tspan><tspan x="940.5" dy="16.5">(м. Владикавказ)</tspan></text></g>

<g id="ncasp"><rect x="1023" y="213" width="106" height="95" rx="13" class="b"/><text class="f125" x="1076" y="236.9">Каспійська<tspan x="1076" dy="14">флотилія</tspan><tspan x="1076" dy="14">(м. Астрахань,</tspan><tspan x="1076" dy="14">м. Махачкала,</tspan><tspan x="1076" dy="14">м. Каспійськ)</tspan></text></g>
<g id="nblack"><rect x="1021" y="319" width="108" height="96" rx="13" class="b"/><text class="f125" x="1075" y="343.4">Чорноморський<tspan x="1075" dy="14">флот</tspan><tspan x="1075" dy="14">(м. Севастополь,</tspan><tspan x="1075" dy="14">м. Феодосія,</tspan><tspan x="1075" dy="14">м. Новоросійськ)</tspan></text></g>
<g id="n30d"><rect x="1042" y="425" width="87" height="154" rx="12" class="b"/><text class="f105" x="1085.5" y="445.7"><tspan font-weight="bold">30 дивізія</tspan><tspan x="1085.5" dy="12" font-weight="bold">надводних</tspan><tspan x="1085.5" dy="12" font-weight="bold">кораблів:</tspan><tspan x="1085.5" dy="12">11 бригада</tspan><tspan x="1085.5" dy="12">протилодкових</tspan><tspan x="1085.5" dy="12">кораблів</tspan><tspan x="1085.5" dy="12">(м. Севастопіль);</tspan><tspan x="1085.5" dy="12">197 бригада</tspan><tspan x="1085.5" dy="12">десантних</tspan><tspan x="1085.5" dy="12">кораблів</tspan><tspan x="1085.5" dy="12">(в/ч 72136)</tspan></text></g>
<g id="n41"><rect x="1042" y="585" width="87" height="68" rx="10" class="b"/><text class="f105" x="1085.5" y="604">41 бригада<tspan x="1085.5" dy="12.5">ракетних катерів</tspan><tspan x="1085.5" dy="12.5">(м. Севастопіль,</tspan><tspan x="1085.5" dy="12.5">в/ч 72165 г)</tspan></text></g>
<g id="n4p"><rect x="1042" y="661" width="87" height="68" rx="10" class="b"/><text class="f105" x="1085.5" y="680">4 бригада<tspan x="1085.5" dy="12.5">підводних лодок</tspan><tspan x="1085.5" dy="12.5">(м. Новоросійськ,</tspan><tspan x="1085.5" dy="12.5">в/ч 95200)</tspan></text></g>
<g id="n68k"><rect x="1042" y="735" width="87" height="65" rx="10" class="b"/><text class="f105" x="1085.5" y="752.5">68 бригада<tspan x="1085.5" dy="12.5">кораблів охорони</tspan><tspan x="1085.5" dy="12.5">(м. Севастопіль,</tspan><tspan x="1085.5" dy="12.5">в/ч 26977)</tspan></text></g>
<g id="n184"><rect x="1042" y="810" width="87" height="61" rx="10" class="b"/><text class="f105" x="1085.5" y="825.5">184 бригада<tspan x="1085.5" dy="12.5">охрони водного</tspan><tspan x="1085.5" dy="12.5">району</tspan><tspan x="1085.5" dy="12.5">(м. Новоросійськ)</tspan></text></g>
<g id="n183"><rect x="917" y="859" width="87" height="69" rx="10" class="b"/><text class="f105" x="960.5" y="878.5">183 дивізіон<tspan x="960.5" dy="12.5">СПАРР</tspan><tspan x="960.5" dy="12.5">(м. Новоросійськ,</tspan><tspan x="960.5" dy="12.5">в/ч 76044)</tspan></text></g>
<g id="n519"><rect x="917" y="934" width="87" height="67" rx="10" class="b"/><text class="f105" x="960.5" y="952.5">519 дивізіон<tspan x="960.5" dy="12.5">розвідувальних</tspan><tspan x="960.5" dy="12.5">кораблів</tspan><tspan x="960.5" dy="12.5">(м. Севастопіль)</tspan></text></g>
<g id="n9b"><rect x="917" y="1007" width="87" height="67" rx="10" class="b"/><text class="f105" x="960.5" y="1025.5">9 бригада<tspan x="960.5" dy="12.5">морських суден</tspan><tspan x="960.5" dy="12.5">забезпечення</tspan><tspan x="960.5" dy="12.5">(м. Севастопіль)</tspan></text></g>
<g id="n422"><rect x="917" y="1082" width="87" height="68" rx="10" class="b"/><text class="f105" x="960.5" y="1101">422 дивізіон<tspan x="960.5" dy="12.5">гідрографічних</tspan><tspan x="960.5" dy="12.5">суден</tspan><tspan x="960.5" dy="12.5">(м. Севастопіль)</tspan></text></g>

<g id="n487h"><rect x="1157" y="215" width="112" height="95" rx="14" class="b"/><text class="f125" x="1213" y="237.9">487<tspan x="1213" dy="14.5">гелікоптерний</tspan><tspan x="1213" dy="14.5">полк</tspan><tspan x="1213" dy="14.5">(м. Будьоновськ,</tspan><tspan x="1213" dy="14.5">в/ч 44936)</tspan></text></g>
<g id="n43"><rect x="1157" y="320" width="112" height="63" rx="12" class="b"/><text class="f125" x="1213" y="341.4">43 морський<tspan x="1213" dy="14.5">полк</tspan><tspan x="1213" dy="14.5">(м. Саки)</tspan></text></g>
<g id="n55"><rect x="1157" y="397" width="112" height="75" rx="12" class="b"/><text class="f125" x="1213" y="417.2">55 гелікоптерний<tspan x="1213" dy="14.5">полк</tspan><tspan x="1213" dy="14.5">(м. Кореновськ,</tspan><tspan x="1213" dy="14.5">в/ч 35666)</tspan></text></g>
<g id="n16"><rect x="1157" y="486" width="112" height="65" rx="12" class="b"/><text class="f125" x="1213" y="508.4">16 бригада<tspan x="1213" dy="14.5">(м. Зерноград,</tspan><tspan x="1213" dy="14.5">в/ч 12628)</tspan></text></g>
<g id="n318"><rect x="1157" y="563" width="112" height="63" rx="12" class="b"/><text class="f125" x="1213" y="584.4">318 змішаний<tspan x="1213" dy="14.5">полк</tspan><tspan x="1213" dy="14.5">(смт. Кача)</tspan></text></g>
<g id="n214"><rect x="1157" y="637" width="112" height="78" rx="14" class="b"/><text class="f13" x="1213" y="658">214 центр<tspan x="1213" dy="15">управління</tspan><tspan x="1213" dy="15">(м. Новочеркаськ,</tspan><tspan x="1213" dy="15">в/ч 65246)</tspan></text></g>
<g id="n4av"><rect x="1157" y="728" width="112" height="80" rx="14" class="b"/><text class="f13" x="1213" y="750">4 авіаційна<tspan x="1213" dy="15">дивізія</tspan><tspan x="1213" dy="15">(аеродром</tspan><tspan x="1213" dy="15">Мариновка)</tspan></text></g>
<g id="n27"><rect x="1157" y="816" width="112" height="52" rx="12" class="b"/><text class="f13" x="1213" y="839">27 авіаційна дивізія<tspan x="1213" dy="15">(м. Севастополь)</tspan></text></g>
<g id="n31p"><rect x="1157" y="880" width="112" height="62" rx="13" class="b"/><text class="f13" x="1213" y="900.5">31 дивизия ППО<tspan x="1213" dy="15">(м. Севастополь,</tspan><tspan x="1213" dy="15">в/ч 03121)</tspan></text></g>
<g id="n1z"><rect x="1156" y="953" width="114" height="62" rx="13" class="b"/><text class="f13" x="1213" y="973.5">1 змішана дивізія<tspan x="1213" dy="15">(м. Кримськ,</tspan><tspan x="1213" dy="15">в/ч 40491)</tspan></text></g>
<g id="n51p"><rect x="1157" y="1026" width="112" height="70" rx="13" class="b"/><text class="f13" x="1213" y="1050.5">51 дивізія ППО<tspan x="1213" dy="15">(м. Новочеркаськ,</tspan><tspan x="1213" dy="15">в/ч 42352)</tspan></text></g>
<g id="n1536"><rect x="1167" y="1109" width="102" height="66" rx="11" class="b"/><text class="f105" x="1218" y="1127.7">1536 зенітний<tspan x="1218" dy="12">ракетний полк</tspan><tspan x="1218" dy="12">(м. Новочеркаськ,</tspan><tspan x="1218" dy="12">в/ч 48514)</tspan></text></g>
<g id="n1537"><rect x="1167" y="1185" width="102" height="53" rx="11" class="b"/><text class="f105" x="1218" y="1203.2">1537 зенітний<tspan x="1218" dy="12">ракетний полк</tspan><tspan x="1218" dy="12">(м. Новоросійськ)</tspan></text></g>
<g id="n1721"><rect x="1167" y="1247" width="102" height="58" rx="11" class="b"/><text class="f105" x="1218" y="1267.7">1721 зенітний<tspan x="1218" dy="12">ракетний полк</tspan><tspan x="1218" dy="12">(м.Сочі, в/ч 11754)</tspan></text></g>
<g id="n338"><rect x="1167" y="1315" width="102" height="65" rx="11" class="b"/><text class="f105" x="1218" y="1333.2">338 радіотехнічний<tspan x="1218" dy="12">полк</tspan><tspan x="1218" dy="12">(м. Ростов-на-Дону,</tspan><tspan x="1218" dy="12">в/ч 40213)</tspan></text></g>
<g id="n339"><rect x="1167" y="1391" width="102" height="59" rx="11" class="b"/><text class="f105" x="1218" y="1412.2">339 радіотехнічний<tspan x="1218" dy="12">полк</tspan><tspan x="1218" dy="12">(с. Тінаки, в/ч 03007)</tspan></text></g>
<g id="n12z"><rect x="1037" y="897" width="86" height="53" rx="10" class="b"/><text class="f105" x="1080" y="914.7">12 зенітний<tspan x="1080" dy="12.5">ракетний полк</tspan><tspan x="1080" dy="12.5">(м. Севастопіль)</tspan></text></g>
<g id="n18z"><rect x="1037" y="956" width="86" height="54" rx="10" class="b"/><text class="f105" x="1080" y="974.2">18 зенітний<tspan x="1080" dy="12.5">ракетний полк</tspan><tspan x="1080" dy="12.5">(м. Феодосія)</tspan></text></g>
<g id="n3rt"><rect x="1037" y="1017" width="86" height="53" rx="10" class="b"/><text class="f105" x="1080" y="1034.7">3 радіотехнічний<tspan x="1080" dy="12.5">полк</tspan><tspan x="1080" dy="12.5">(м. Севастопіль)</tspan></text></g>
<g id="ncont"><rect x="1021" y="1118" width="125" height="336" rx="20" class="b" style="stroke-width:1.5"/></g>
<g id="n3zm"><rect x="1031" y="1128" width="103" height="67" rx="11" class="b"/><text class="f105" x="1082.5" y="1147.2">3 змішаний<tspan x="1082.5" dy="12">авіаційний полк</tspan><tspan x="1082.5" dy="12">(м. Кримськ,</tspan><tspan x="1082.5" dy="12">в/ч 75386)</tspan></text></g>
<g id="n31v"><rect x="1031" y="1203" width="103" height="69" rx="11" class="b"/><text class="f105" x="1082.5" y="1223.2">31 виницувальний<tspan x="1082.5" dy="12">авіаційний полк</tspan><tspan x="1082.5" dy="12">(с. Долотинка,</tspan><tspan x="1082.5" dy="12">в/ч 75391)</tspan></text></g>
<g id="n368"><rect x="1031" y="1280" width="103" height="67" rx="11" class="b"/><text class="f105" x="1082.5" y="1299.2">368 штурмовий<tspan x="1082.5" dy="12">авіаційний полк</tspan><tspan x="1082.5" dy="12">(м. Будьоновськ,</tspan><tspan x="1082.5" dy="12">в/ч 75388)</tspan></text></g>
<g id="n559"><rect x="1031" y="1357" width="103" height="81" rx="12" class="b"/><text class="f105" x="1082.5" y="1377.2">559<tspan x="1082.5" dy="12">бомбардувальний</tspan><tspan x="1082.5" dy="12">авіаційний полк</tspan><tspan x="1082.5" dy="12">(м. Морозовськ,</tspan><tspan x="1082.5" dy="12">в/ч 75392)</tspan></text></g>

<g id="n176"><rect x="890" y="1197" width="116" height="55" rx="12" class="b"/><text class="f145" x="948" y="1221.4">176 бригада<tspan x="948" dy="16.5">зв’язку (с. Расвєт)</tspan></text></g>
<g id="n99"><rect x="890" y="1265" width="116" height="55" rx="12" class="b"/><text class="f145" x="948" y="1289.4">99 бригада МТЗ<tspan x="948" dy="16.5">(м. Майкоп)</tspan></text></g>
<g id="n78"><rect x="890" y="1332" width="116" height="54" rx="12" class="b"/><text class="f145" x="948" y="1355.9">78 бригада МТЗ<tspan x="948" dy="16.5">(м. Будьоновськ)</tspan></text></g>
<g id="n19reb"><rect x="890" y="1398" width="116" height="55" rx="12" class="b"/><text class="f145" x="948" y="1422.4">19 бригада РЕБ<tspan x="948" dy="16.5">(с. Расвєт)</tspan></text></g>
<g id="hsub"><rect x="872" y="1464" width="317" height="75" rx="16" class="h"/><text class="f22" x="1030.5" y="1496">З’єднання та частини<tspan x="1030.5" dy="28">окружного підпорядкування</tspan></text></g>
<g id="n40r"><rect x="900" y="1553" width="112" height="67" rx="13" class="b"/><text class="f145" x="956" y="1575.6">40 ракетна<tspan x="956" dy="16">бригада</tspan><tspan x="956" dy="16" font-size="12px">(Астраханська обл.)</tspan></text></g>
<g id="n28"><rect x="900" y="1631" width="112" height="68" rx="13" class="b"/><text class="f145" x="956" y="1654.1">28 бригада РХБЗ<tspan x="956" dy="16">(м. Камишин,</tspan><tspan x="956" dy="16">в/ч 65363)</tspan></text></g>
<g id="n37"><rect x="900" y="1710" width="112" height="68" rx="13" class="b"/><text class="f145" x="956" y="1733.1">37 залізнична<tspan x="956" dy="16">бригада</tspan><tspan x="956" dy="16">(м. Волгоград)</tspan></text></g>
<g id="n333"><rect x="870" y="1786" width="141" height="63" rx="13" class="b"/><text class="f13" x="940.5" y="1807">333 понтонно-<tspan x="940.5" dy="15">мостовий залізничний</tspan><tspan x="940.5" dy="15">батальон (м. Волгоград)</tspan></text></g>
<g id="n77"><rect x="1021" y="1551" width="110" height="85" rx="14" class="b"/><text class="f145" x="1076" y="1574.6">77 зенітна<tspan x="1076" dy="16">ракетна бригада</tspan><tspan x="1076" dy="16">(м. Кореновськ,</tspan><tspan x="1076" dy="16">в/ч 33742)</tspan></text></g>
<g id="n439"><rect x="1021" y="1647" width="110" height="103" rx="14" class="b"/><text class="f145" x="1076" y="1671.6">439 реактивна<tspan x="1076" dy="16">артилерійська</tspan><tspan x="1076" dy="16">бригада</tspan><tspan x="1076" dy="16">(м. Знаменськ,</tspan><tspan x="1076" dy="16">в/ч 48315)</tspan></text></g>
<g id="n10re"><rect x="1021" y="1762" width="110" height="87" rx="14" class="b"/><text class="f145" x="1076" y="1778.6">10 ремонтно-<tspan x="1076" dy="16">евакуаційний</tspan><tspan x="1076" dy="16">полк</tspan><tspan x="1076" dy="16" font-size="12px">(м. Слав’янськ-на-</tspan><tspan x="1076" dy="16" font-size="12px">Кубані, в/ч 25356)</tspan></text></g>
<g id="n175"><rect x="1161" y="1553" width="110" height="84" rx="14" class="b"/><text class="f145" x="1216" y="1576.1">175 бригада<tspan x="1216" dy="16">управління</tspan><tspan x="1216" dy="16">(м. Аксай,</tspan><tspan x="1216" dy="16">в/ч 01957)</tspan></text></g>
<g id="n11i"><rect x="1161" y="1648" width="110" height="103" rx="14" class="b"/><text class="f145" x="1216" y="1672.6">11 інженерна<tspan x="1216" dy="16">бригада</tspan><tspan x="1216" dy="16">(м. Каменськ-</tspan><tspan x="1216" dy="16">Шахтинський,</tspan><tspan x="1216" dy="16">в/ч 45767)</tspan></text></g>
<g id="n39z"><rect x="1161" y="1760" width="110" height="85" rx="14" class="b"/><text class="f145" x="1216" y="1783.6">39 залізнична<tspan x="1216" dy="16">бригада</tspan><tspan x="1216" dy="16">(м. Тимашовськ,</tspan><tspan x="1216" dy="16">в/ч 01228)</tspan></text></g>

<text id="caption" x="466" y="1843" style="font-size:21.5px;text-anchor:start">Рис. 6.2. Південний воєнний округ ЗС</text>
</svg>
